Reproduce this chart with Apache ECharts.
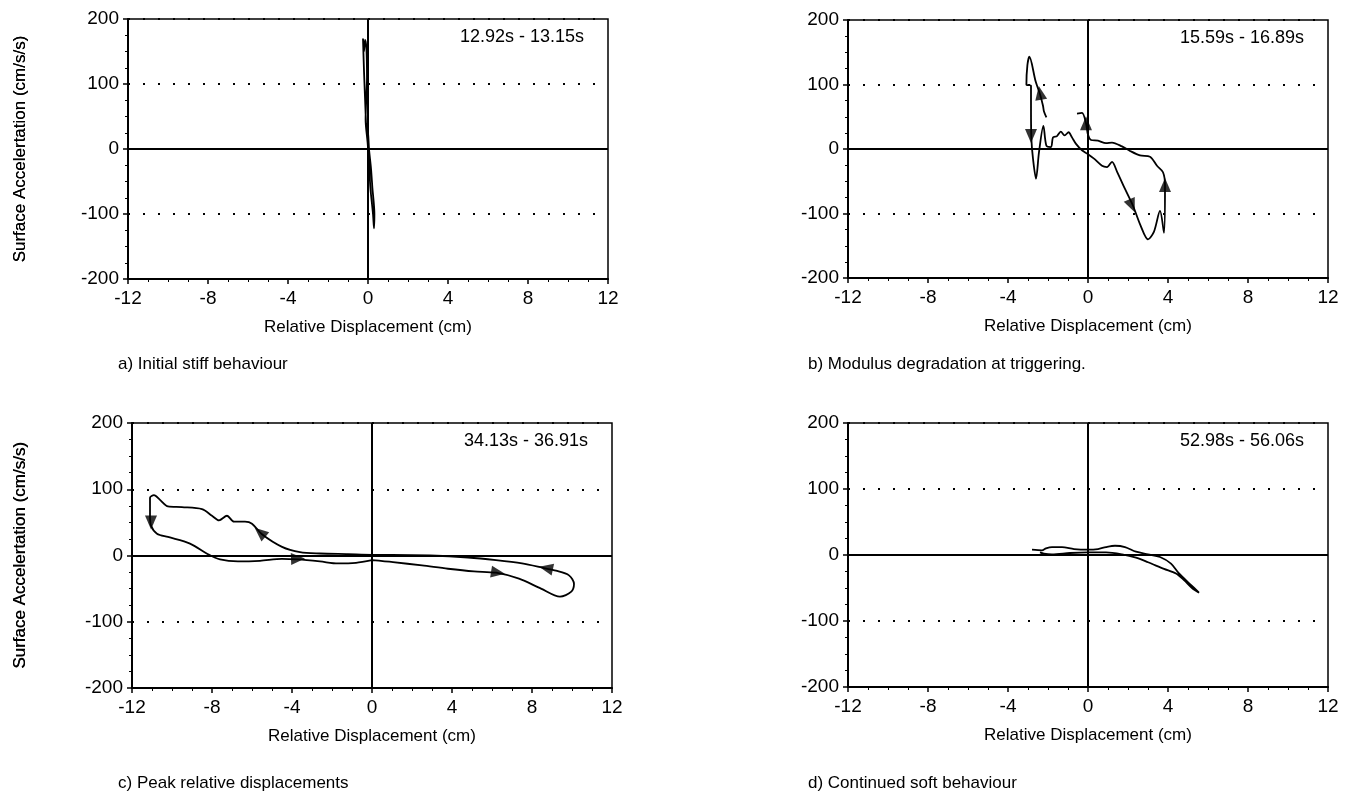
<!DOCTYPE html>
<html>
<head>
<meta charset="utf-8">
<script src="https://cdn.jsdelivr.net/npm/echarts@6/dist/echarts.min.js"></script>
<style>
html, body { margin: 0; padding: 0; background: #fff; }
#chart { width: 1352px; height: 802px; }
</style>
</head>
<body>
<div id="chart"></div>
<script>
var captions = [
    "a) Initial stiff behaviour",
    "b) Modulus degradation at triggering.",
    "c) Peak relative displacements",
    "d) Continued soft behaviour"
]
var timeRanges = ["12.92s - 13.15s", "15.59s - 16.89s", "34.13s - 36.91s", "52.98s - 56.06s"]

// [displacement cm, acceleration cm/s/s]
var loopA = [
    [-0.1, 40], [-0.2, 120], [-0.25, 170], [-0.2, 150], [-0.15, 168], [-0.08, 155],
    [-0.05, 110], [-0.12, 45], [-0.02, 10], [0.05, -20], [0.12, -60], [0.25, -100],
    [0.3, -122], [0.32, -100], [0.22, -60], [0.15, -30], [0.05, 0], [0.0, 25], [-0.1, 40]
]
var loopB = [
    [-2.08, 49], [-2.2, 58], [-2.25, 67], [-2.4, 85], [-2.62, 105], [-2.93, 143],
    [-3.03, 130], [-3.08, 100], [-2.85, 98], [-2.85, 60], [-2.83, 15], [-2.75, -15],
    [-2.6, -46], [-2.45, -5], [-2.23, 36], [-2.08, 5], [-1.85, 3], [-1.75, 18],
    [-1.55, 20], [-1.36, 27], [-1.17, 21], [-0.97, 26], [-0.8, 18], [-0.6, 8],
    [-0.3, -2], [0, -8], [0.3, -15], [0.7, -26], [0.95, -28], [1.2, -20], [1.45, -35],
    [1.85, -62], [2.25, -88], [2.62, -118], [3.0, -140], [3.3, -128], [3.6, -96],
    [3.8, -130], [3.85, -56], [3.75, -36], [3.45, -26], [3.1, -12], [2.6, -10],
    [2.1, -3], [1.7, 4], [1.2, 10], [0.9, 9], [0.5, 13], [0.15, 14], [0.0, 22],
    [-0.1, 40], [-0.3, 56], [-0.55, 55]
]
var loopC = [
    [0, -7], [1.05, -10], [2.5, -15], [3.8, -20], [5.1, -24], [6.2, -26], [7.35, -35],
    [8.45, -50], [9.4, -62], [9.95, -55], [10.1, -43], [9.85, -30], [9.2, -23],
    [8.6, -19], [7.5, -12], [6.2, -7], [4.8, -3], [2.9, 0], [1.0, 1], [0, 1],
    [-1.2, 2], [-2.6, 3], [-3.6, 5], [-4.5, 13], [-5.5, 32], [-6.0, 48], [-6.35, 51],
    [-6.9, 51], [-7.25, 60], [-7.65, 53], [-8.0, 60], [-8.5, 70], [-9.5, 73],
    [-10.2, 74], [-10.6, 84], [-10.9, 91], [-11.1, 87], [-11.1, 60], [-11.05, 45],
    [-10.75, 33], [-10.2, 28], [-9.1, 18], [-8.2, 2], [-7.6, -6], [-6.7, -9],
    [-5.6, -8], [-4.5, -5], [-3.7, -6], [-2.6, -9], [-1.7, -12], [-0.8, -11], [0, -7]
]
var loopD = [
    [-2.8, 8], [-2.3, 7], [-2.1, 10], [-1.8, 12], [-1.3, 12], [-0.7, 9], [0, 8],
    [0.5, 9], [0.9, 12], [1.35, 14], [1.85, 12], [2.4, 5], [3.0, 1], [3.6, -3],
    [4.15, -13], [4.55, -28], [5.1, -44], [5.55, -57], [5.2, -50], [4.8, -38],
    [4.4, -28], [3.8, -21], [3.0, -11], [2.4, -4], [1.7, 1], [0.9, 4], [0, 4],
    [-0.9, 3], [-1.8, 1], [-2.2, 2], [-2.4, 4]
]

// arrow heads: [x, y, direction in degrees (0 = pointing up, counter-clockwise)]
var arrowsA = []
var arrowsB = [[-2.4, 87, 10], [-2.85, 20, 180], [-0.1, 40, 0], [2.2, -88, -157], [3.85, -56, 0]]
var arrowsC = [[-11.05, 50, 180], [-5.6, 35, 50], [-3.7, -5, -88], [6.3, -26, -99], [8.7, -19, 78]]
var arrowsD = []

var loops = [loopA, loopB, loopC, loopD]
var arrows = [arrowsA, arrowsB, arrowsC, arrowsD]

var gridBoxes = [
    {left: 128, top: 19, width: 480, height: 260},
    {left: 848, top: 20, width: 480, height: 258},
    {left: 132, top: 423, width: 480, height: 265},
    {left: 848, top: 423, width: 480, height: 264}
]
var captionPos = [[118, 366], [808, 366], [118, 785], [808, 785]]

var font = "Liberation Sans, Arial, sans-serif"
var chart = echarts.init(document.getElementById("chart"))

var option = {
    animation: false,
    grid: [],
    xAxis: [],
    yAxis: [],
    series: [],
    graphic: []
}

gridBoxes.forEach(function (box, i) {
    option.grid.push({
        left: box.left, top: box.top, width: box.width, height: box.height,
        show: true, borderColor: "#000", borderWidth: 1.5, backgroundColor: "#fff"
    })
    option.xAxis.push({
        gridIndex: i,
        type: "value",
        min: -12, max: 12, interval: 4,
        name: "Relative Displacement (cm)",
        nameLocation: "middle",
        nameGap: 40,
        nameTextStyle: {color: "#000", fontSize: 17, fontFamily: font},
        axisLine: {onZero: false, lineStyle: {color: "#000", width: 2}},
        axisTick: {show: true, length: 5, lineStyle: {color: "#000", width: 1.5}},
        minorTick: {show: true, splitNumber: 4, length: 3, lineStyle: {color: "#000", width: 1}},
        axisLabel: {color: "#000", fontSize: 19, fontFamily: font, margin: 10},
        splitLine: {show: false}
    })
    option.yAxis.push({
        gridIndex: i,
        type: "value",
        min: -200, max: 200, interval: 100,
        name: "Surface Accelertation (cm/s/s)",
        nameLocation: "middle",
        nameGap: box.left - 29,
        nameTextStyle: {color: "#000", fontSize: 17, fontFamily: font},
        axisLine: {onZero: false, lineStyle: {color: "#000", width: 2}},
        axisTick: {show: true, length: 5, lineStyle: {color: "#000", width: 1.5}},
        minorTick: {show: true, splitNumber: 4, length: 3, lineStyle: {color: "#000", width: 1}},
        axisLabel: {color: "#000", fontSize: 19, fontFamily: font, margin: 9},
        splitLine: {show: true, lineStyle: {color: "#000", type: [2, 13], width: 2}}
    })
    option.series.push({
        type: "line",
        xAxisIndex: i, yAxisIndex: i,
        data: loops[i],
        showSymbol: false,
        smooth: 0.3,
        lineStyle: {color: "#000", width: 1.8},
        z: 3,
        markLine: {
            silent: true,
            symbol: ["none", "none"],
            label: {show: false},
            lineStyle: {color: "#000", type: "solid", width: 2},
            data: [{xAxis: 0}, {yAxis: 0}]
        }
    })
    option.series.push({
        type: "scatter",
        xAxisIndex: i, yAxisIndex: i,
        symbol: "triangle",
        symbolSize: [12, 14],
        itemStyle: {color: "#000"},
        z: 4,
        data: arrows[i].map(function (a) {
            return {value: [a[0], a[1]], symbolRotate: a[2]}
        })
    })
    option.graphic.push({
        type: "text",
        left: box.left + box.width - 8 - 140,
        top: box.top + 9,
        style: {
            text: timeRanges[i],
            fill: "#000",
            font: "18px " + font,
            width: 140,
            align: "right"
        }
    })
    option.graphic.push({
        type: "text",
        left: captionPos[i][0],
        top: captionPos[i][1] - 10,
        style: {text: captions[i], fill: "#000", font: "17px " + font}
    })
})

chart.setOption(option)
</script>
</body>
</html>
